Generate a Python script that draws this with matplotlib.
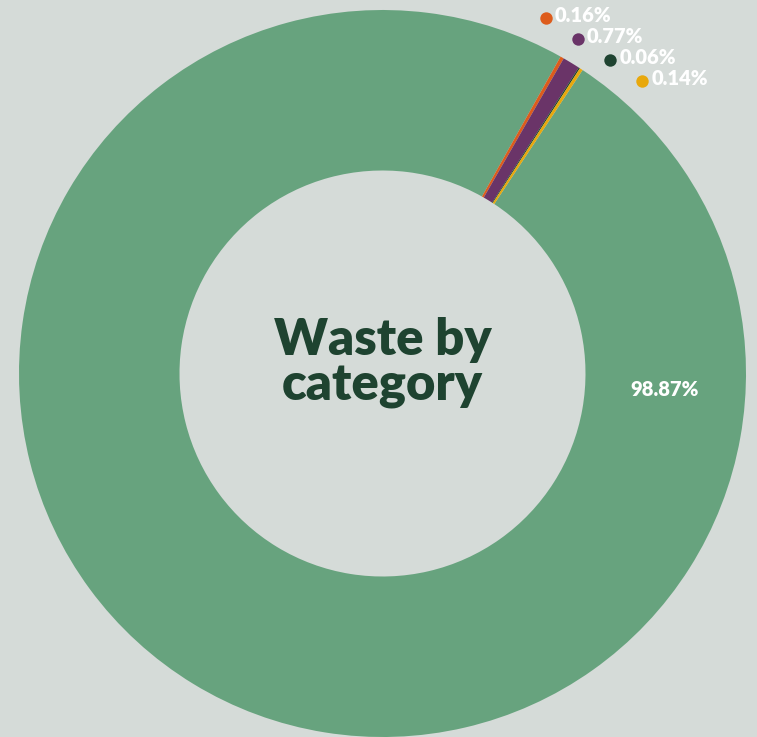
import matplotlib
matplotlib.use("Agg")
import matplotlib.pyplot as plt

# data
categories = ["Main", "Cat A", "Cat B", "Cat C", "Cat D"]
shares = [98.87, 0.16, 0.77, 0.06, 0.14]
colors = ["#67a37e", "#dd5c1c", "#6a3468", "#1f4331", "#e8a80c"]
labels = ["98.87%", "0.16%", "0.77%", "0.06%", "0.14%"]

bg = "#d5dbd8"
W, H = 757, 737

fig = plt.figure(figsize=(W / 100, H / 100), dpi=100, facecolor=bg)
ax = fig.add_axes([0, 0, 1, 1])
ax.set_facecolor(bg)

cx, cy, R = 382.5, H - 373.5, 363.5
wedges, _ = ax.pie(shares, colors=colors, startangle=56.6, counterclock=False,
                   center=(cx, cy), radius=R, frame=True,
                   wedgeprops=dict(width=R - 203, linewidth=0))
ax.set_xlim(0, W)
ax.set_ylim(0, H)
ax.set_aspect("equal")
ax.axis("off")

ax.text(cx, H - 363, "Waste by\ncategory", ha="center", va="center",
        fontsize=36.5, fontweight="heavy", color="#1e4330", family="Lato",
        linespacing=1.0)

ax.text(665, H - 389, labels[0], ha="center", va="center", fontsize=14.5,
        fontweight="heavy", color="white", family="Lato")

# small-slice labels stacked to the upper right
x0, y0, dx, dy = 546, 18, 32.1, 21
for i in range(1, len(shares)):
    px = x0 + dx * (i - 1)
    py = H - (y0 + dy * (i - 1))
    ax.scatter(px, py, s=80, color=colors[i], zorder=5, linewidths=0)
    ax.text(px + 9, py + 3, labels[i], ha="left", va="center", fontsize=14.5,
            fontweight="heavy", color="white", family="Lato")

fig.savefig("out.png", dpi=100, facecolor=bg)
